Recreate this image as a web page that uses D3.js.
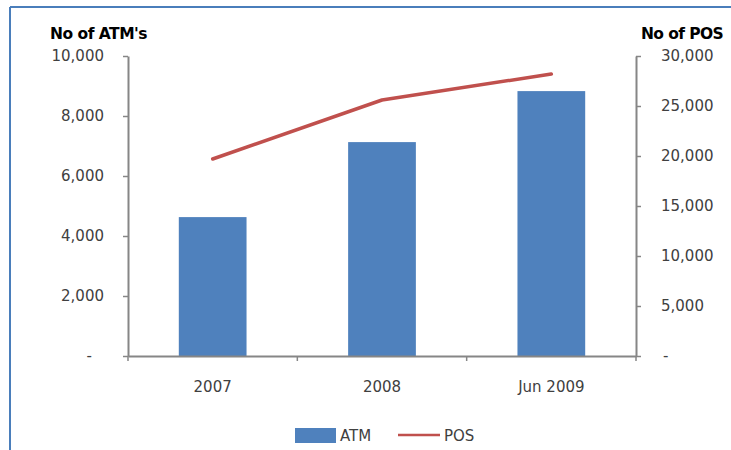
<!DOCTYPE html>
<html>
<head>
<meta charset="utf-8">
<script src="https://cdn.jsdelivr.net/npm/d3@7"></script>
<style>
  html, body { margin: 0; padding: 0; background: #ffffff; }
  svg { display: block; }
  text { font-family: "DejaVu Sans", sans-serif; }
</style>
</head>
<body>
<script>
// ATM and POS counts by period
const categories = ["2007", "2008", "Jun 2009"];
const atmValues = [4630, 7130, 8830];
const posValues = [19700, 25600, 28200];
const atmTicks = [0, 2000, 4000, 6000, 8000, 10000];
const posTicks = [0, 5000, 10000, 15000, 20000, 25000, 30000];

const W = 731, H = 450;
const plot = { left: 128, right: 636, top: 56, bottom: 356 };
const barColor = "#4f81bd", lineColor = "#c0504d", axisColor = "#868686", textColor = "#404040";

const svg = d3.select("body").append("svg").attr("width", W).attr("height", H);

// frame lines
svg.append("line").attr("x1", 10).attr("x2", W).attr("y1", 7).attr("y2", 7)
  .attr("stroke", "#4a7ebb").attr("stroke-width", 2);
svg.append("line").attr("x1", 10).attr("x2", 10).attr("y1", 7).attr("y2", H)
  .attr("stroke", "#4a7ebb").attr("stroke-width", 2);

const x = d3.scaleBand().domain(categories).range([plot.left, plot.right]).paddingInner(0.6).paddingOuter(0.3);
const xOuter = d3.scaleBand().domain(categories).range([plot.left, plot.right]);
const yL = d3.scaleLinear().domain([0, 10000]).range([plot.bottom, plot.top]);
const yR = d3.scaleLinear().domain([0, 30000]).range([plot.bottom, plot.top]);

const fmt = v => v === 0 ? "-" : d3.format(",")(v);

// bars
svg.append("g").selectAll("rect").data(categories).join("rect")
  .attr("x", d => x(d))
  .attr("width", x.bandwidth())
  .attr("y", (d, i) => yL(atmValues[i]))
  .attr("height", (d, i) => yL(0) - yL(atmValues[i]))
  .attr("fill", barColor);

// POS line
const line = d3.line()
  .x((d, i) => xOuter(categories[i]) + xOuter.bandwidth() / 2)
  .y(d => yR(d));
svg.append("path").datum(posValues).attr("d", line)
  .attr("fill", "none").attr("stroke", lineColor).attr("stroke-width", 3.5)
  .attr("stroke-linecap", "round").attr("stroke-linejoin", "round");

// left axis
const gL = svg.append("g").attr("transform", `translate(${plot.left},0)`)
  .call(d3.axisLeft(yL).tickValues(atmTicks).tickFormat(fmt).tickSize(5).tickSizeOuter(0).tickPadding(19));
// right axis
const gR = svg.append("g").attr("transform", `translate(${plot.right},0)`)
  .call(d3.axisRight(yR).tickValues(posTicks).tickFormat(fmt).tickSize(5).tickSizeOuter(0).tickPadding(20));
// bottom axis with ticks at category boundaries
const boundaries = categories.map(c => xOuter(c)).concat([plot.right]);
const gB = svg.append("g").attr("transform", `translate(0,${plot.bottom})`)
  .call(d3.axisBottom(xOuter).tickSize(0).tickPadding(25));
gB.selectAll(".tick-b").data(boundaries).join("line")
  .attr("x1", d => d).attr("x2", d => d).attr("y1", 0).attr("y2", 5)
  .attr("stroke", axisColor).attr("stroke-width", 1.5);

[gL, gR, gB].forEach(g => {
  g.select(".domain").attr("stroke", axisColor).attr("stroke-width", 2);
  g.selectAll(".tick line").attr("stroke", axisColor).attr("stroke-width", 1.5);
  g.selectAll("text").attr("fill", textColor).style("font-size", "15px")
    .style("font-family", "'DejaVu Sans', sans-serif");
});
gL.selectAll(".tick text").filter(d => d === 0).attr("dx", -12);
gR.selectAll(".tick text").filter(d => d === 0).attr("dx", 2);

// axis titles
svg.append("text").attr("x", 50).attr("y", 39).text("No of ATM's")
  .attr("font-weight", "bold").attr("font-size", 15.5).attr("fill", "#000")
  .attr("letter-spacing", -0.5);
svg.append("text").attr("x", 641).attr("y", 39).text("No of POS")
  .attr("font-weight", "bold").attr("font-size", 15.5).attr("fill", "#000")
  .attr("letter-spacing", -0.6);

// legend
const lg = svg.append("g");
lg.append("rect").attr("x", 295).attr("y", 428).attr("width", 41).attr("height", 15).attr("fill", barColor);
lg.append("text").attr("x", 340).attr("y", 441).text("ATM").attr("font-size", 15).attr("fill", textColor);
lg.append("line").attr("x1", 398).attr("x2", 440).attr("y1", 435).attr("y2", 435)
  .attr("stroke", lineColor).attr("stroke-width", 2.5);
lg.append("text").attr("x", 444).attr("y", 441).text("POS").attr("font-size", 15).attr("fill", textColor);
</script>
</body>
</html>
